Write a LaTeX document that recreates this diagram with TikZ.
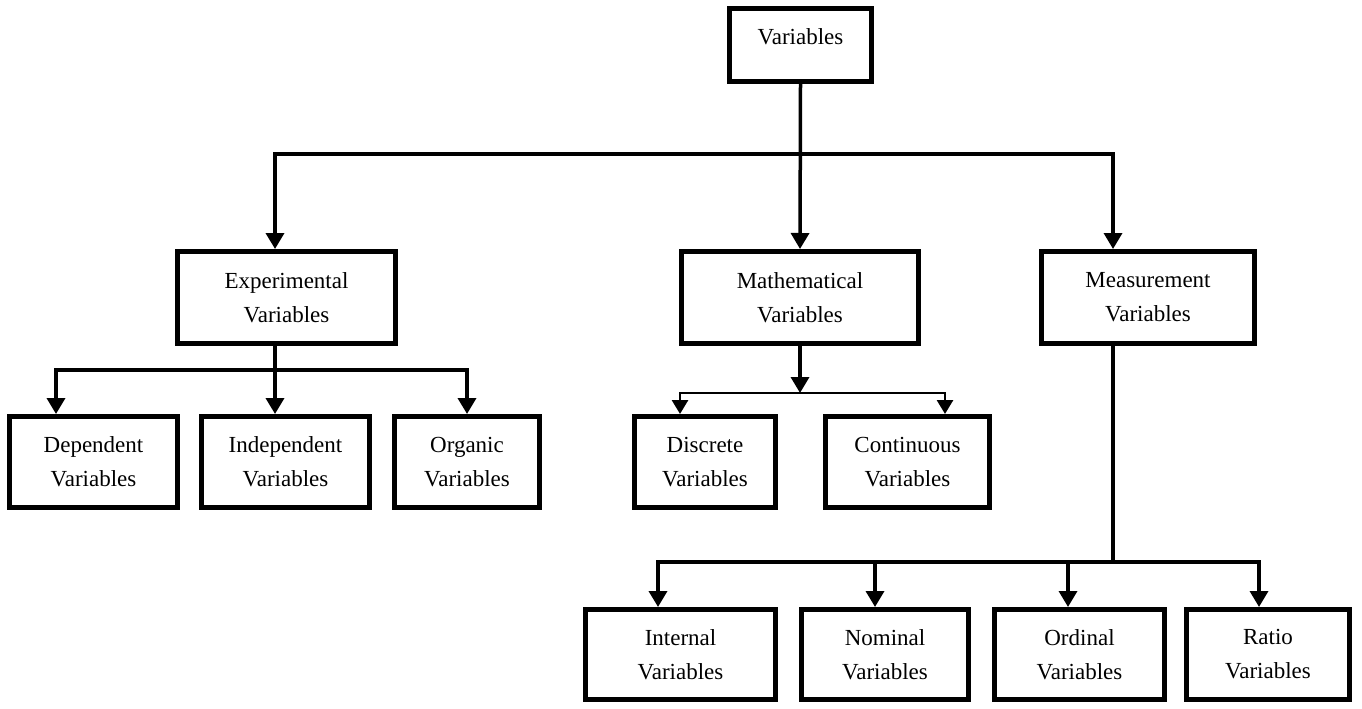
\documentclass[tikz,border=0pt]{standalone}
\usepackage{fontspec}
\setmainfont{Liberation Serif}
\usetikzlibrary{arrows.meta}
\begin{document}
\begin{tikzpicture}[x=1pt,y=-1pt,
  box/.style={draw, line width=5pt, inner sep=0pt, align=center,
    font=\fontsize{23}{34}\selectfont},
  link/.style={line width=3.5pt},
  arr/.style={link, -{Triangle[length=16pt,width=18pt]}},
  thin link/.style={line width=2.8pt},
  thin arr/.style={thin link, -{Triangle[length=14pt,width=16pt]}},
]
\useasboundingbox (0,0) rectangle (1362,709);

% root
\node[box, minimum width=142pt, minimum height=73pt, text height=8pt, text depth=8pt]
  (var) at (800.5,45) {Variables};

% second level
\node[box, minimum width=218pt, minimum height=92pt] (exp)  at (286.5,297.5) {Experimental\\Variables};
\node[box, minimum width=237pt, minimum height=92pt] (math) at (800,297.5)   {Mathematical\\Variables};
\node[box, minimum width=213pt, minimum height=92pt] (meas) at (1148,297.5)  {Measurement\\Variables};

% third level
\node[box, minimum width=168pt, minimum height=91pt] (dep)  at (93.5,462)  {Dependent\\Variables};
\node[box, minimum width=168pt, minimum height=91pt] (ind)  at (285.5,462) {Independent\\Variables};
\node[box, minimum width=145pt, minimum height=91pt] (org)  at (467,462)   {Organic\\Variables};
\node[box, minimum width=141pt, minimum height=91pt] (disc) at (705,462)   {Discrete\\Variables};
\node[box, minimum width=164pt, minimum height=91pt] (cont) at (907.5,462) {Continuous\\Variables};

% fourth level
\node[box, minimum width=190pt, minimum height=90pt] (intl)  at (680.5,654.5) {Internal\\Variables};
\node[box, minimum width=167pt, minimum height=90pt] (nom)   at (885,654.5)   {Nominal\\Variables};
\node[box, minimum width=170pt, minimum height=90pt] (ord)   at (1079.5,654.5){Ordinal\\Variables};
\node[box, minimum width=163pt, minimum height=90pt] (ratio) at (1268,654.5)  {Ratio\\Variables};

% bus levels and entry points
\coordinate (bus0) at (0,154);
\coordinate (expin)  at (275,0);
\coordinate (measin) at (1113,0);
\coordinate (bus1) at (0,370);
\coordinate (bus2) at (0,393);
\coordinate (bus3) at (0,562);
\coordinate (depin)  at (56,0);
\coordinate (orgin)  at (467,0);
\coordinate (discin) at (680,0);
\coordinate (contin) at (945,0);
\coordinate (intlin) at (658,0);
\coordinate (nomin)  at (875,0);
\coordinate (ordin)  at (1068,0);
\coordinate (ratin)  at (1259,0);

% root to second level
\draw[arr] (var.south) -- (math.north);
\draw[arr] (var.south |- bus0) -| (expin |- exp.north);
\draw[arr] (var.south |- bus0) -| (measin |- meas.north);

% experimental branch
\draw[arr] (expin |- exp.south) -- (expin |- ind.north);
\draw[arr] (expin |- bus1) -| (depin |- dep.north);
\draw[arr] (expin |- bus1) -| (orgin |- org.north);

% mathematical branch
\draw[arr] (math.south) -- (math.south |- bus2);
\draw[thin arr] (math.south |- bus2) -| (discin |- disc.north);
\draw[thin arr] (math.south |- bus2) -| (contin |- cont.north);

% measurement branch
\draw[link] (measin |- meas.south) -- (measin |- bus3);
\draw[arr] (measin |- bus3) -| (intlin |- intl.north);
\draw[arr] (measin |- bus3) -| (nomin |- nom.north);
\draw[arr] (measin |- bus3) -| (ordin |- ord.north);
\draw[arr] (measin |- bus3) -| (ratin |- ratio.north);
\end{tikzpicture}
\end{document}
